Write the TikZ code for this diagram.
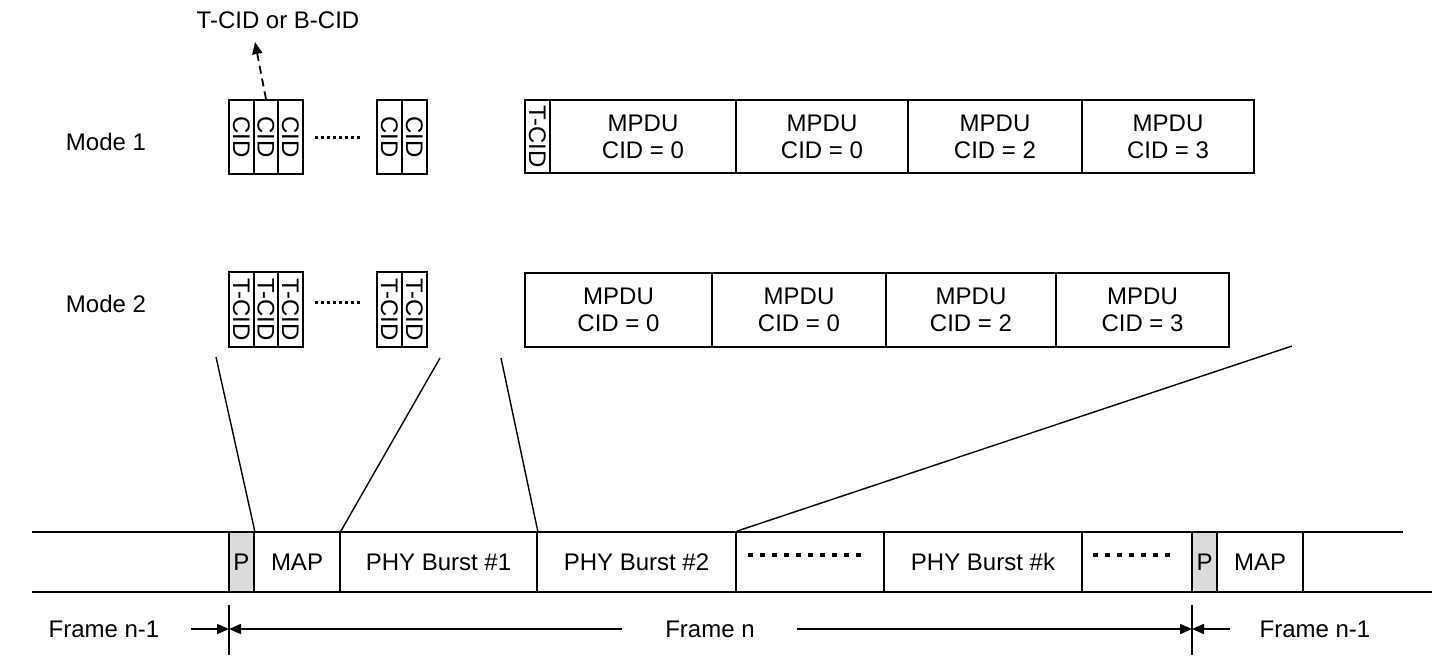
\documentclass[tikz,border=0pt]{standalone}
\usepackage{fontspec}
\setmainfont{Liberation Sans}
\usetikzlibrary{arrows.meta}
\tikzset{
  cell/.style={draw, rectangle, inner sep=0pt, line width=0.8pt},
  cidcell/.style={cell, rotate=-90, minimum width=37pt, minimum height=12.25pt},
  mpdu/.style={cell, align=center, minimum height=36.5pt},
  slot/.style={cell, minimum height=30pt},
  preamble/.style={slot, fill=black!14, minimum width=12.5pt},
  smalldots/.style={line width=1.5pt, dash pattern=on 1.5pt off 1.5pt},
  bigdots/.style={line width=2pt, dash pattern=on 2.5pt off 3.5pt},
  tip/.style={-{Triangle[length=6pt, width=5pt]}, line width=0.9pt}
}
\begin{document}
\begin{tikzpicture}[x=0.5pt, y=-0.5pt, font=\fontsize{12}{13.5}\selectfont, line width=0.8pt]
\useasboundingbox (0,0) rectangle (1434,670);
\node (lab) at (278,20) {T-CID or B-CID};
\coordinate (labtip) at (255,42);
\node (mode1) at (106,142) {Mode 1};
\node (mode2) at (106,304) {Mode 2};
\node[cidcell] (cid0) at (241.5,137) {CID};
\node[cidcell] (cid1) at (266,137) {CID};
\node[cidcell] (cid2) at (290.5,137) {CID};
\node[cidcell] (cid3) at (389.5,137) {CID};
\node[cidcell] (cid4) at (414.5,137) {CID};
\coordinate (d0) at (315,137);
\coordinate (d1) at (363,137);
\draw[smalldots] (d0) -- (d1);
\draw[tip, dash pattern=on 4pt off 2.5pt] (cid1.west) -- (labtip);
\node[cidcell, minimum height=12.5pt, minimum width=36.5pt] (tc0) at (537.5,136.5) {T-CID};
\node[mpdu, minimum width=93pt] (m0) at (643,136.5) {MPDU\\CID = 0};
\node[mpdu, minimum width=86pt] (m1) at (822,136.5) {MPDU\\CID = 0};
\node[mpdu, minimum width=87pt] (m2) at (995,136.5) {MPDU\\CID = 2};
\node[mpdu, minimum width=86pt] (m3) at (1168,136.5) {MPDU\\CID = 3};
\node[cidcell, minimum width=37.5pt] (tid0) at (241.5,309.5) {T-CID};
\node[cidcell, minimum width=37.5pt] (tid1) at (266,309.5) {T-CID};
\node[cidcell, minimum width=37.5pt] (tid2) at (290.5,309.5) {T-CID};
\node[cidcell, minimum width=37.5pt] (tid3) at (389.5,309.5) {T-CID};
\node[cidcell, minimum width=37.5pt] (tid4) at (414.5,309.5) {T-CID};
\coordinate (d2) at (315,302);
\coordinate (d3) at (363,302);
\draw[smalldots] (d2) -- (d3);
\node[mpdu, minimum width=93.5pt, minimum height=37pt] (n0) at (618.5,310) {MPDU\\CID = 0};
\node[mpdu, minimum width=87pt, minimum height=37pt] (n1) at (799,310) {MPDU\\CID = 0};
\node[mpdu, minimum width=85pt, minimum height=37pt] (n2) at (971,310) {MPDU\\CID = 2};
\node[mpdu, minimum width=86.5pt, minimum height=37pt] (n3) at (1142.5,310) {MPDU\\CID = 3};
\draw[line width=0.9pt] (32,532) -- (1403,532);
\draw[line width=0.9pt] (32,592) -- (1432,592);
\node[preamble] (p0) at (241.5,562) {P};
\node[slot, minimum width=43pt] (map0) at (297,562) {MAP};
\node[slot, minimum width=98.5pt] (b1) at (438.5,562) {PHY Burst \#1};
\node[slot, minimum width=99.5pt] (b2) at (636.5,562) {PHY Burst \#2};
\node[slot, minimum width=99pt] (bk) at (983,562) {PHY Burst \#k};
\node[preamble] (p1) at (1204.5,562) {P};
\node[slot, minimum width=43pt] (map1) at (1260,562) {MAP};
\draw[bigdots] (748,555) -- (867,555);
\draw[bigdots] (1093,555) -- (1172,555);
\coordinate (e0) at (216,357);
\coordinate (e1) at (440,358);
\coordinate (e2) at (501,358);
\coordinate (e3) at (1292,346);
\draw[line width=0.7pt] (e0) -- (p0.north east);
\draw[line width=0.7pt] (e1) -- (map0.north east);
\draw[line width=0.7pt] (e2) -- (b1.north east);
\draw[line width=0.7pt] (b2.north east) -- (e3);
\node (f0) at (104,629) {Frame n-1};
\node (f1) at (710,629) {Frame n};
\node (f2) at (1315,629) {Frame n-1};
\coordinate (k0) at (229,629);
\coordinate (k1) at (1192,629);
\draw[line width=0.6pt] (229,605) -- (229,655);
\draw[line width=0.6pt] (1192,605) -- (1192,655);
\draw[tip] (191,629) -- (k0);
\draw[tip] (622,629) -- (k0);
\draw[tip] (797,629) -- (k1);
\draw[tip] (1230,629) -- (k1);
\end{tikzpicture}
\end{document}
